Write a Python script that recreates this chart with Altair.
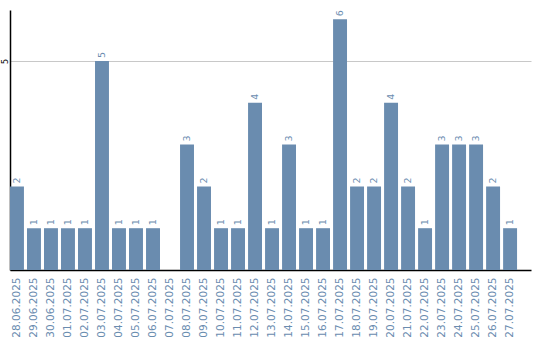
import altair as alt
import pandas as pd

dates = ["28.06.2025", "29.06.2025", "30.06.2025", "01.07.2025", "02.07.2025",
         "03.07.2025", "04.07.2025", "05.07.2025", "06.07.2025", "07.07.2025",
         "08.07.2025", "09.07.2025", "10.07.2025", "11.07.2025", "12.07.2025",
         "13.07.2025", "14.07.2025", "15.07.2025", "16.07.2025", "17.07.2025",
         "18.07.2025", "19.07.2025", "20.07.2025", "21.07.2025", "22.07.2025",
         "23.07.2025", "24.07.2025", "25.07.2025", "26.07.2025", "27.07.2025"]
counts = [2, 1, 1, 1, 1, 5, 1, 1, 1, 0,
          3, 2, 1, 1, 4, 1, 3, 1, 1, 6,
          2, 2, 4, 2, 1, 3, 3, 3, 2, 1]

df = pd.DataFrame({"date": dates, "count": counts})
df["label"] = df["count"].apply(lambda v: str(v) if v > 0 else "")

color = "#6a8caf"
font = "DejaVu Sans"

x = alt.X("date:N", sort=dates, title=None,
          scale=alt.Scale(paddingInner=0.18, paddingOuter=0.41, align=0),
          axis=alt.Axis(labelAngle=270, labelAlign="right", labelBaseline="middle",
                        labelColor=color, labelFontSize=10.5, labelFont=font,
                        ticks=False, labelPadding=7, domainColor="#000000",
                        domainWidth=1.5, grid=False))
y = alt.Y("count:Q", title=None,
          scale=alt.Scale(domain=[0, 6.22], nice=False),
          axis=alt.Axis(values=[5], labelAngle=270, labelAlign="center",
                        labelBaseline="middle", labelFontSize=8, labelFont=font,
                        labelColor="#000000", ticks=False, labelPadding=5,
                        domainColor="#000000", domainWidth=1.5,
                        grid=True, gridColor="#c8c8c8", gridWidth=1))

bars = alt.Chart(df).mark_bar(color=color).encode(x=x, y=y)
text = alt.Chart(df).mark_text(angle=270, align="left", baseline="middle",
                               dx=3, color=color, fontSize=9.5, font=font).encode(
    x=alt.X("date:N", sort=dates), y="count:Q", text="label:N")

chart = (bars + text).properties(
    width=521, height=260,
    autosize=alt.AutoSizeParams(type="none"),
    padding={"left": 10, "top": 10, "right": 9, "bottom": 70},
    background="white",
).configure_view(stroke=None)

chart.save("out.html", embed_options={"renderer": "svg", "actions": False})
